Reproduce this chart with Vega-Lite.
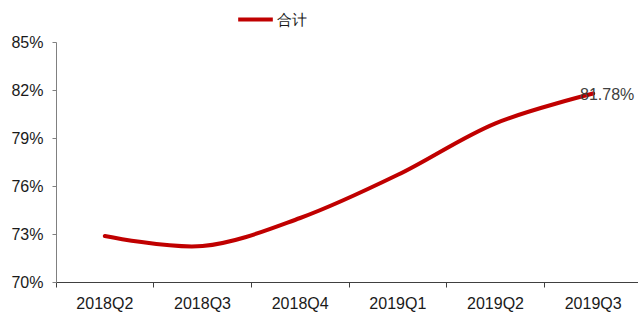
{
  "$schema": "https://vega.github.io/schema/vega-lite/v6.json",
  "autosize": {"type": "none"},
  "padding": {"left": 56, "top": 42, "right": 0, "bottom": 45},
  "width": 586,
  "height": 240,
  "background": "white",
  "config": {
    "view": {"stroke": null},
    "font": "Liberation Sans"
  },
  "data": {
    "values": [
      {"q": "2018Q2", "v": 0.7288, "s": "合计"},
      {"q": "2018Q3", "v": 0.7225, "s": "合计"},
      {"q": "2018Q4", "v": 0.7400, "s": "合计"},
      {"q": "2019Q1", "v": 0.7670, "s": "合计"},
      {"q": "2019Q2", "v": 0.7992, "s": "合计"},
      {"q": "2019Q3", "v": 0.8178, "s": "合计", "lab": "81.78%"}
    ]
  },
  "encoding": {
    "x": {
      "field": "q", "type": "ordinal",
      "scale": {"type": "band", "paddingInner": 0, "paddingOuter": 0},
      "axis": {
        "title": null, "labelAngle": 0, "bandPosition": 0,
        "labelFontSize": 16, "labelColor": "#1a1a1a", "labelPadding": 8,
        "domainColor": "#404040", "tickColor": "#404040", "tickSize": 5,
        "grid": false
      }
    },
    "y": {
      "field": "v", "type": "quantitative",
      "scale": {"domain": [0.70, 0.85], "nice": false, "zero": false},
      "axis": {
        "title": null, "format": ".0%", "values": [0.70, 0.73, 0.76, 0.79, 0.82, 0.85],
        "labelFontSize": 16, "labelColor": "#1a1a1a", "labelPadding": 9,
        "domainColor": "#808080", "tickColor": "#808080", "tickSize": 4,
        "grid": false
      }
    }
  },
  "layer": [
    {
      "mark": {"type": "line", "interpolate": "catmull-rom", "strokeWidth": 4, "strokeCap": "round"},
      "encoding": {
        "color": {
          "field": "s", "type": "nominal",
          "scale": {"range": ["#C00000"]},
          "legend": {
            "title": null, "orient": "none", "legendX": 180, "legendY": -42,
            "symbolType": "stroke", "symbolStrokeWidth": 4, "symbolSize": 1200,
            "labelFontSize": 15, "labelColor": "#1a1a1a", "labelOffset": 2
          }
        }
      }
    },
    {
      "transform": [{"filter": "datum.lab"}],
      "mark": {"type": "text", "fontSize": 16, "color": "#404040", "dx": 14, "dy": 1},
      "encoding": {"text": {"field": "lab"}}
    }
  ]
}
